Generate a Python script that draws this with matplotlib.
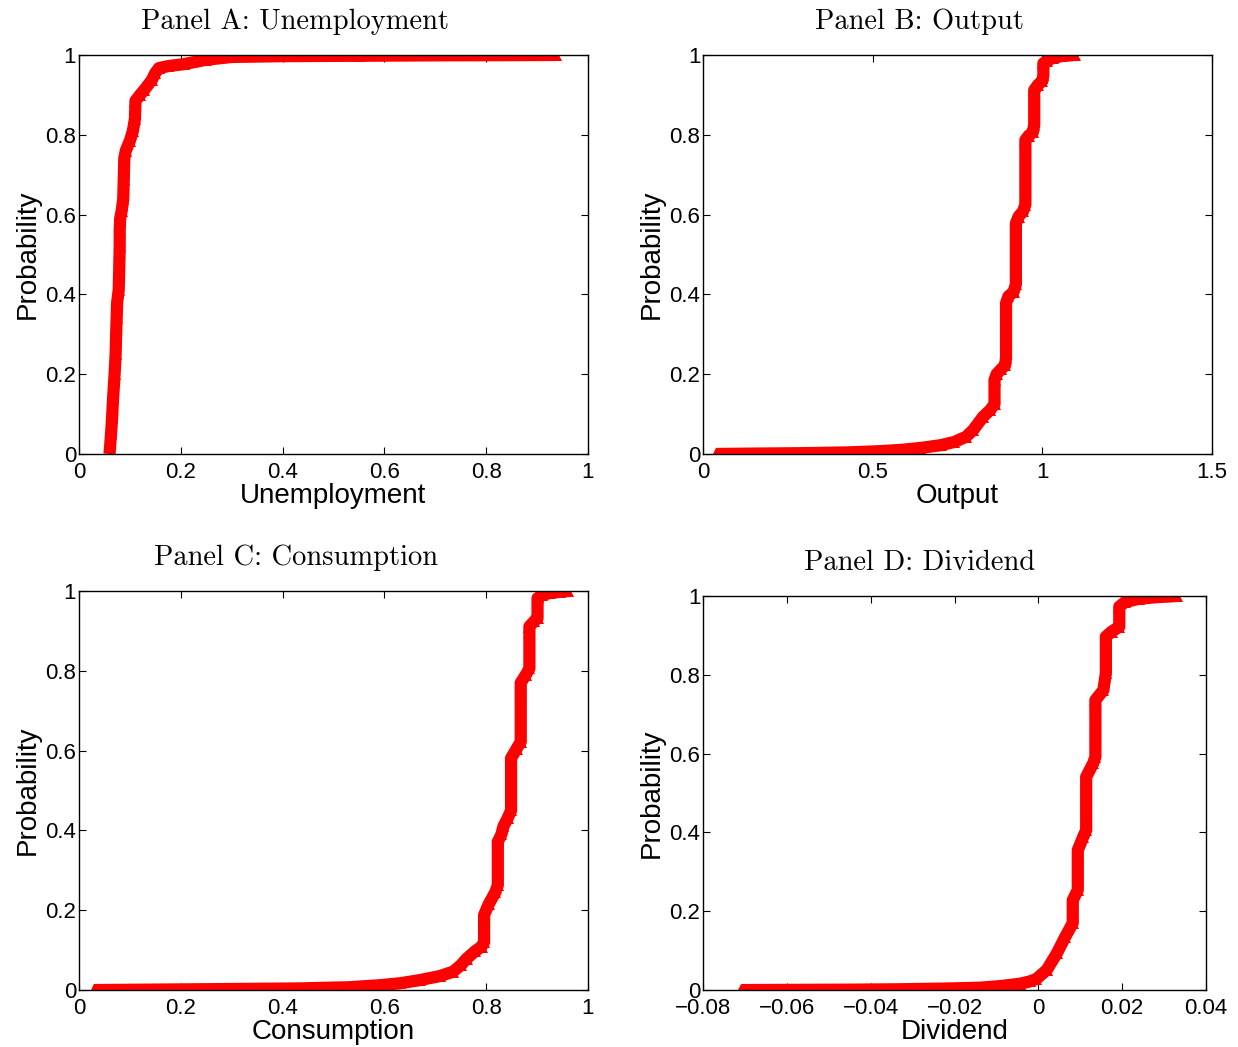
import matplotlib
matplotlib.use('Agg')
import matplotlib.pyplot as plt

plt.rcParams['font.family'] = ['Liberation Sans', 'DejaVu Sans']
plt.rcParams['axes.unicode_minus'] = True

unemp_x = [0.060, 0.063, 0.065, 0.067, 0.070, 0.072, 0.073, 0.074, 0.075, 0.078,
           0.079, 0.080, 0.080, 0.081, 0.084, 0.087, 0.088, 0.089, 0.092, 0.100,
           0.106, 0.110, 0.111, 0.120, 0.128, 0.143, 0.150, 0.157, 0.175, 0.206,
           0.250, 0.300, 0.400, 0.550, 0.700, 0.850, 0.937]
unemp_p = [0.00, 0.05, 0.09, 0.14, 0.20, 0.25, 0.30, 0.34, 0.38, 0.41,
           0.46, 0.52, 0.56, 0.59, 0.61, 0.64, 0.69, 0.74, 0.76, 0.785,
           0.81, 0.84, 0.885, 0.90, 0.912, 0.937, 0.955, 0.967, 0.972, 0.977,
           0.988, 0.995, 0.997, 0.998, 0.999, 0.9995, 1.0]

# Panel B: Output
output_x = [0.038, 0.15, 0.29, 0.43, 0.52, 0.58, 0.64, 0.70, 0.74, 0.775,
            0.796, 0.825, 0.846, 0.859, 0.859, 0.865, 0.878, 0.890, 0.893, 0.893,
            0.900, 0.915, 0.922, 0.922, 0.930, 0.943, 0.950, 0.950, 0.960, 0.972,
            0.976, 0.976, 0.987, 1.000, 1.003, 1.003, 1.015, 1.030, 1.055, 1.096]
output_p = [0.0, 0.001, 0.002, 0.004, 0.007, 0.010, 0.015, 0.022, 0.030, 0.043,
            0.060, 0.093, 0.110, 0.125, 0.185, 0.200, 0.212, 0.222, 0.240, 0.378,
            0.395, 0.406, 0.425, 0.578, 0.595, 0.608, 0.625, 0.787, 0.798, 0.806,
            0.825, 0.912, 0.925, 0.935, 0.950, 0.979, 0.986, 0.992, 0.997, 1.0]

# Panel C: Consumption
cons_x = [0.029, 0.24, 0.43, 0.53, 0.59, 0.631, 0.67, 0.709, 0.735, 0.750,
          0.762, 0.778, 0.791, 0.796, 0.796, 0.805, 0.818, 0.823, 0.823, 0.830,
          0.834, 0.842, 0.849, 0.849, 0.860, 0.868, 0.868, 0.878, 0.885, 0.885,
          0.895, 0.901, 0.901, 0.910, 0.925, 0.945, 0.961]
cons_p = [0.0, 0.002, 0.004, 0.007, 0.012, 0.017, 0.025, 0.035, 0.046, 0.062,
          0.079, 0.097, 0.109, 0.120, 0.188, 0.215, 0.245, 0.263, 0.372, 0.390,
          0.410, 0.430, 0.450, 0.581, 0.605, 0.622, 0.770, 0.790, 0.806, 0.911,
          0.925, 0.932, 0.982, 0.990, 0.995, 0.998, 1.0]

# Panel D: Dividend
div_x = [-0.0709, -0.057, -0.045, -0.033, -0.021, -0.0139, -0.0091, -0.0044, -0.002, -0.0005,
         0.002, 0.0044, 0.0064, 0.0082, 0.0082, 0.0094, 0.0094, 0.0107, 0.0114, 0.0114,
         0.0131, 0.0136, 0.0136, 0.0155, 0.0161, 0.0161, 0.0175, 0.0193, 0.0193, 0.0207,
         0.0240, 0.0280, 0.0330]
div_p = [0.0, 0.0005, 0.001, 0.002, 0.004, 0.006, 0.010, 0.016, 0.022, 0.028,
         0.051, 0.093, 0.135, 0.170, 0.228, 0.254, 0.355, 0.389, 0.406, 0.541,
         0.576, 0.592, 0.736, 0.761, 0.804, 0.897, 0.910, 0.922, 0.973, 0.985,
         0.993, 0.997, 1.0]

y_ticks = [0, 0.2, 0.4, 0.6, 0.8, 1]
y_labels = ['0', '0.2', '0.4', '0.6', '0.8', '1']

panels = [
    # title, xlabel, x, p, xlim, xticks, xticklabels, axes rect, title x
    ('Panel A: Unemployment', 'Unemployment', unemp_x, unemp_p, (0, 1),
     [0, 0.2, 0.4, 0.6, 0.8, 1], ['0', '0.2', '0.4', '0.6', '0.8', '1'],
     [0.0638, 0.5664, 0.4111, 0.3811], 0.424),
    ('Panel B: Output', 'Output', output_x, output_p, (0, 1.5),
     [0, 0.5, 1, 1.5], ['0', '0.5', '1', '1.5'],
     [0.5679, 0.5664, 0.4111, 0.3811], 0.426),
    ('Panel C: Consumption', 'Consumption', cons_x, cons_p, (0, 1),
     [0, 0.2, 0.4, 0.6, 0.8, 1], ['0', '0.2', '0.4', '0.6', '0.8', '1'],
     [0.0638, 0.0544, 0.4111, 0.3811], 0.426),
    ('Panel D: Dividend', 'Dividend', div_x, div_p, (-0.08, 0.04),
     [-0.08, -0.06, -0.04, -0.02, 0, 0.02, 0.04],
     ['\u22120.08', '\u22120.06', '\u22120.04', '\u22120.02', '0', '0.02', '0.04'],
     [0.5679, 0.0544, 0.4063, 0.3763], 0.431),
]

fig = plt.figure(figsize=(12.38, 10.47), dpi=100)

for title, xlabel, xs, ps, xlim, xt, xtl, rect, tx in panels:
    ax = fig.add_axes(rect)
    ax.plot(xs, ps, color='red', lw=8.8, marker='^', ms=9, mew=0,
            solid_joinstyle='round', solid_capstyle='butt')
    ax.set_xlim(xlim)
    ax.set_ylim(0, 1)
    ax.set_xticks(xt)
    ax.set_xticklabels(xtl)
    ax.set_yticks(y_ticks)
    ax.set_yticklabels(y_labels)
    ax.tick_params(direction='in', length=5, width=0.8, top=True, right=True,
                   labelsize=16, colors='black')
    ax.tick_params(axis='x', pad=6)
    ax.tick_params(axis='y', pad=2)
    for s in ax.spines.values():
        s.set_linewidth(1.0)
    ax.set_xlabel(xlabel, fontsize=20, labelpad=0)
    ax.set_ylabel('Probability', fontsize=20, labelpad=3)
    ax.text(tx, 1.065, title, transform=ax.transAxes, ha='center', va='baseline',
            fontsize=20.5, fontfamily='cmr10')

fig.savefig('out.png', dpi=100)
